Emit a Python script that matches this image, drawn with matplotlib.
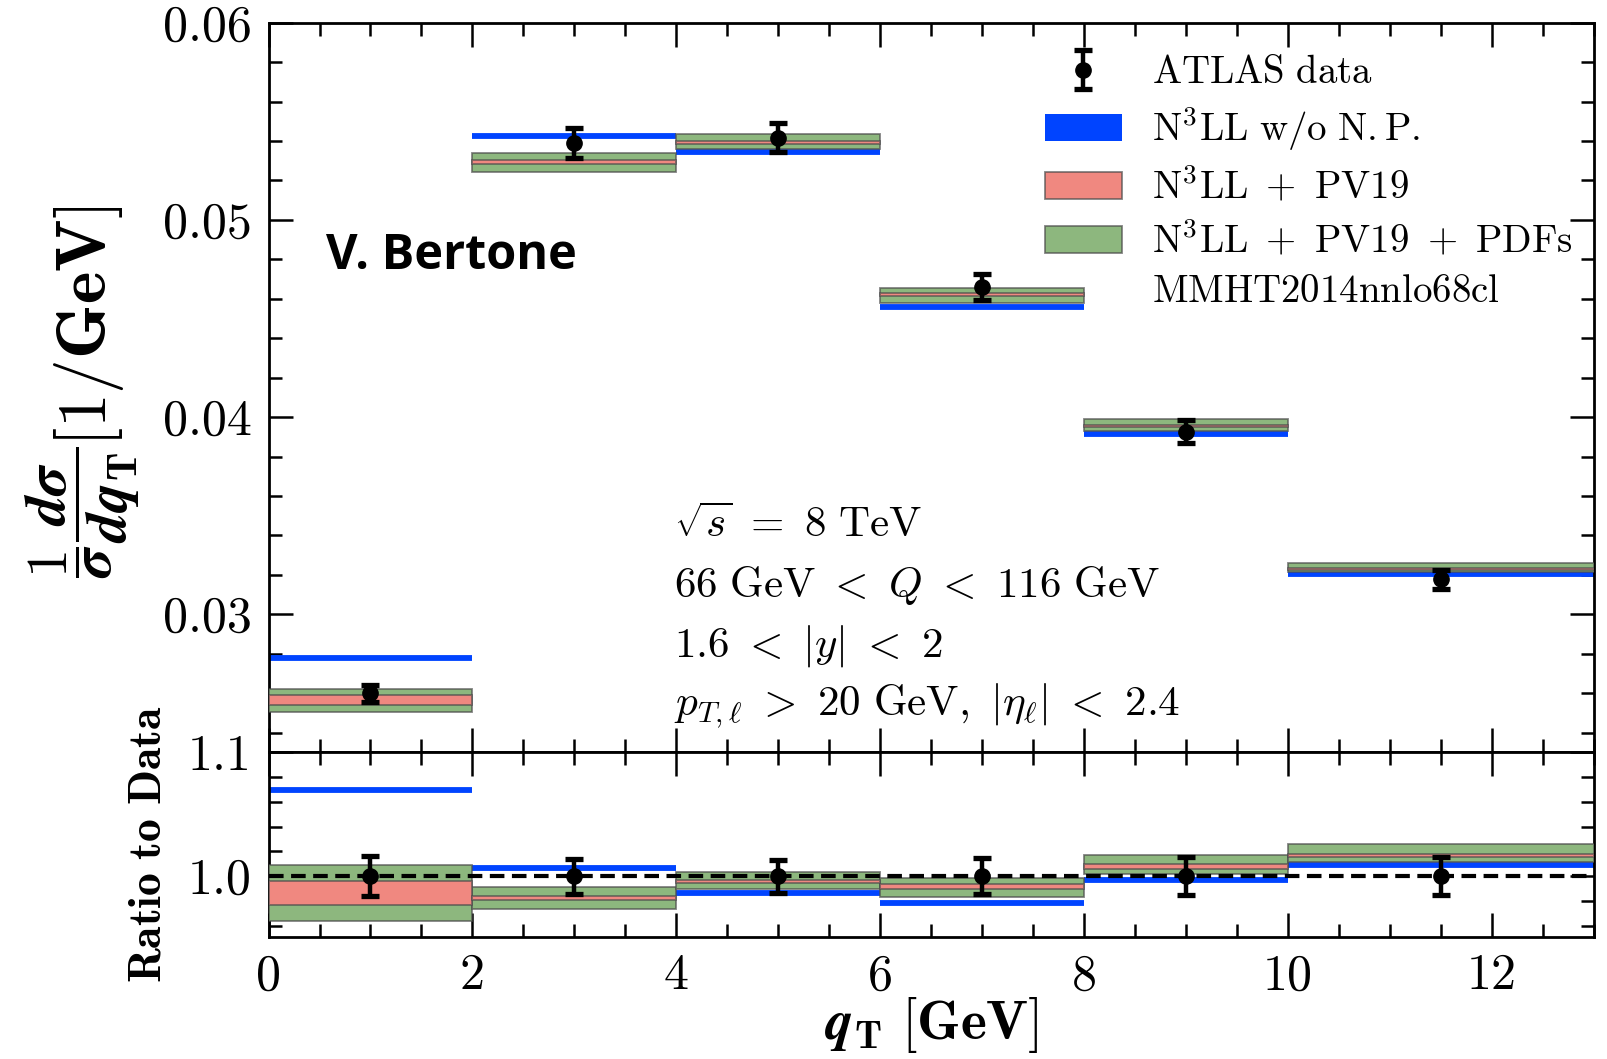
import numpy as np
import matplotlib
matplotlib.use("Agg")
import matplotlib.pyplot as plt
from matplotlib.patches import Patch
from matplotlib.lines import Line2D
from matplotlib.legend_handler import HandlerErrorbar
from matplotlib.ticker import MultipleLocator, FormatStrFormatter

plt.rcParams['font.family'] = 'cmr10'
plt.rcParams['mathtext.fontset'] = 'cm'
plt.rcParams['axes.unicode_minus'] = False

# qT bins [GeV]
binEdges = [0, 2, 4, 6, 8, 10, 13]
binCenters = [1, 3, 5, 7, 9, 11.5]

# ATLAS data: 1/sigma dsigma/dqT [1/GeV] and relative uncertainty
dataValues = [0.0260, 0.05388, 0.05417, 0.04659, 0.03925, 0.03177]
dataRelErr = [0.0163, 0.0141, 0.0133, 0.0143, 0.0150, 0.0152]

# predictions, as ratio to data
ratioNoNP = [1.0694, 1.0067, 0.9864, 0.9780, 0.9967, 1.0092]
ratioPV19Low = [0.9763, 0.9804, 0.9945, 0.9899, 1.0060, 1.0152]
ratioPV19High = [0.9962, 0.9839, 0.9967, 0.9932, 1.0095, 1.0180]
ratioPDFLow = [0.9635, 0.9733, 0.9896, 0.9829, 1.0016, 1.0114]
ratioPDFHigh = [1.0090, 0.9913, 1.0035, 0.9986, 1.0169, 1.0261]

legendLabels = [r'$\mathrm{ATLAS\ data}$',
                r'$\mathrm{N^3LL\ w/o\ N.P.}$',
                r'$\mathrm{N^3LL}\ +\ \mathrm{PV19}$',
                r'$\mathrm{N^3LL}\ +\ \mathrm{PV19}\ +\ \mathrm{PDFs}$',
                r'$\mathrm{MMHT2014nnlo68cl}$']

infoLines = [r'$\sqrt{s}\ =\ 8\ \mathrm{TeV}$',
             r'$66\ \mathrm{GeV}\ <\ Q\ <\ 116\ \mathrm{GeV}$',
             r'$1.6\ <\ |y|\ <\ 2$',
             r'$p_{T,\ell}\ >\ 20\ \mathrm{GeV},\ |\eta_\ell|\ <\ 2.4$']

blueColor = '#0044ff'
redColor = '#f08880'
greenColor = '#8db77e'
edgeGray = (0.3, 0.3, 0.3, 0.7)


def drawPanel(ax, scale, noNP, pv19Low, pv19High, pdfLow, pdfHigh):
    left = np.array(binEdges[:-1])
    width = np.diff(binEdges)
    ax.hlines(noNP * scale, left, left + width, colors=blueColor,
              linewidth=4.2, capstyle='butt', zorder=2)
    ax.bar(left, (pdfHigh - pdfLow) * scale, width, bottom=pdfLow * scale,
           align='edge', color=greenColor, edgecolor=edgeGray,
           linewidth=1.3, zorder=3)
    ax.bar(left, (pv19High - pv19Low) * scale, width, bottom=pv19Low * scale,
           align='edge', color=redColor, edgecolor=edgeGray,
           linewidth=1.3, zorder=4)


def main():
    data = np.array(dataValues)
    relErr = np.array(dataRelErr)
    noNP = np.array(ratioNoNP)
    pv19Low = np.array(ratioPV19Low)
    pv19High = np.array(ratioPV19High)
    pdfLow = np.array(ratioPDFLow)
    pdfHigh = np.array(ratioPDFHigh)

    fig = plt.figure(figsize=(16.07, 10.59), dpi=100)
    axTop = fig.add_axes([0.1671, 0.2896, 0.8248, 0.6890])
    axRatio = fig.add_axes([0.1671, 0.1155, 0.8248, 0.1741])

    # upper panel: distributions
    drawPanel(axTop, data, noNP, pv19Low, pv19High, pdfLow, pdfHigh)
    dataPoints = axTop.errorbar(binCenters, data, yerr=data * relErr, fmt='o',
                                color='black', markersize=11, elinewidth=3.2,
                                capsize=6.5, capthick=3.8, zorder=6)

    # lower panel: ratio to data
    drawPanel(axRatio, 1.0, noNP, pv19Low, pv19High, pdfLow, pdfHigh)
    axRatio.axhline(1.0, color='black', linewidth=3, dashes=(3.5, 1.8), zorder=5)
    axRatio.errorbar(binCenters, np.ones(len(binCenters)), yerr=relErr,
                     fmt='o', color='black', markersize=11, elinewidth=3.2,
                     capsize=6.5, capthick=3.8, zorder=6)

    axTop.set_xlim(0, 13)
    axTop.set_ylim(0.023, 0.06)
    axRatio.set_xlim(0, 13)
    axRatio.set_ylim(0.951, 1.1)

    for ax in (axTop, axRatio):
        for spine in ax.spines.values():
            spine.set_linewidth(2.0)
        ax.xaxis.set_major_locator(MultipleLocator(2))
        ax.xaxis.set_minor_locator(MultipleLocator(0.5))
        ax.tick_params(which='both', direction='in', top=True, right=True,
                       width=1.8, labelsize=36, pad=12)
        ax.tick_params(which='major', length=17)
        ax.tick_params(which='minor', length=9.5)
    axTop.yaxis.set_major_locator(MultipleLocator(0.01))
    axTop.yaxis.set_minor_locator(MultipleLocator(0.002))
    axTop.yaxis.set_major_formatter(FormatStrFormatter('%.2f'))
    axTop.tick_params(labelbottom=False)
    axRatio.yaxis.set_major_locator(MultipleLocator(0.1))
    axRatio.yaxis.set_minor_locator(MultipleLocator(0.02))
    axRatio.yaxis.set_major_formatter(FormatStrFormatter('%.1f'))

    # y label of the upper panel: fraction and unit
    fig.text(0.051, 0.5165,
             r'$\dfrac{\mathbf{1}}{\boldsymbol{\sigma}}'
             r'\dfrac{\boldsymbol{d\sigma}}{\boldsymbol{dq}_{\mathbf{T}}}$',
             rotation=90, ha='center', va='center', fontsize=42)
    fig.text(0.0554, 0.692, r'$\mathbf{[1/GeV]}$',
             rotation=90, ha='center', va='center', fontsize=50)
    axRatio.set_ylabel(r'$\mathbf{Ratio\ to\ Data}$', fontsize=33)
    axRatio.yaxis.set_label_coords(-0.075, 0.5)
    axRatio.set_xlabel(r'$\boldsymbol{q}_{\mathbf{T}}\ \mathbf{[GeV]}$',
                       fontsize=40, labelpad=-3)

    for i, line in enumerate(infoLines):
        axTop.text(3.98, 0.0339 - i * 0.00301, line, fontsize=31,
                   va='baseline', ha='left')

    axTop.text(0.0434, 0.663, 'V. Bertone', transform=axTop.transAxes,
               fontsize=35, fontweight='bold', family='Open Sans',
               va='baseline', ha='left')

    handles = [dataPoints,
               Patch(facecolor=blueColor, edgecolor='none'),
               Patch(facecolor=redColor, edgecolor=edgeGray, linewidth=1.3),
               Patch(facecolor=greenColor, edgecolor=edgeGray, linewidth=1.3),
               Line2D([], [], linestyle='none')]
    axTop.legend(handles, legendLabels, loc='upper left',
                 bbox_to_anchor=(0.5858, 0.955), frameon=False, fontsize=28,
                 handlelength=1.98, handleheight=0.71, handletextpad=0.76,
                 labelspacing=0.33, borderpad=0, borderaxespad=0,
                 handler_map={dataPoints: HandlerErrorbar(yerr_size=0.5)})

    fig.savefig('out.png', dpi=100)


main()
